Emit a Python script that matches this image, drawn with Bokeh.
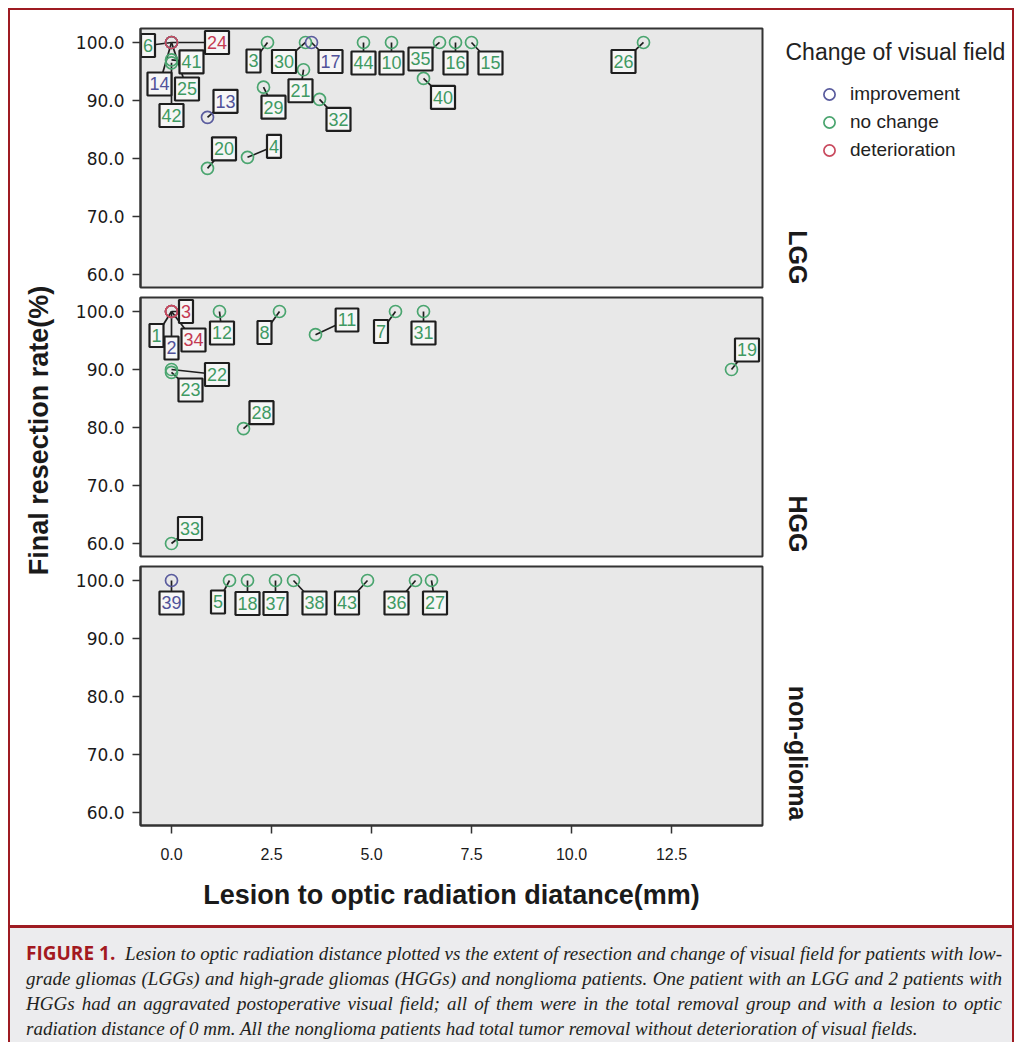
import math
from bokeh.plotting import figure
from bokeh.layouts import column, row
from bokeh.models import (Range1d, FixedTicker, NumeralTickFormatter, Label,
                          Legend, LegendItem, Div, Spacer)
from bokeh.core.properties import value
from bokeh.embed import file_html
from bokeh.resources import INLINE

# ---------------- data ----------------
x_ticks = [0.0, 2.5, 5.0, 7.5, 10.0, 12.5]
y_ticks = [60.0, 70.0, 80.0, 90.0, 100.0]
groups = ["LGG", "HGG", "non-glioma"]
change_levels = ["improvement", "no change", "deterioration"]

lgg_id = ["6", "24", "14", "25", "41", "42", "13", "20", "4", "29", "3",
          "30", "17", "21", "32", "44", "10", "35", "16", "15", "40", "26"]
lgg_dist = [0.0, 0.0, 0.0, 0.0, 0.0, 0.0, 0.9, 0.9, 1.9, 2.3, 2.4,
            3.35, 3.5, 3.3, 3.7, 4.8, 5.5, 6.7, 7.1, 7.5, 6.3, 11.8]
lgg_rate = [100, 100, 100, 100, 97.0, 96.5, 87.1, 78.3, 80.2, 92.3, 100,
            100, 100, 95.3, 90.2, 100, 100, 100, 100, 100, 93.8, 100]
lgg_change = ["no change", "deterioration", "improvement", "no change", "no change",
              "no change", "improvement", "no change", "no change", "no change",
              "no change", "no change", "improvement", "no change", "no change",
              "no change", "no change", "no change", "no change", "no change",
              "no change", "no change"]

hgg_id = ["3", "34", "1", "2", "12", "8", "11", "7", "31", "22", "23", "28", "33", "19"]
hgg_dist = [0.0, 0.0, 0.0, 0.0, 1.2, 2.7, 3.6, 5.6, 6.3, 0.0, 0.0, 1.8, 0.0, 14.0]
hgg_rate = [100, 100, 100, 100, 100, 100, 96.0, 100, 100, 90.0, 89.5, 79.8, 60.0, 90.0]
hgg_change = ["deterioration", "deterioration", "no change", "improvement", "no change",
              "no change", "no change", "no change", "no change", "no change",
              "no change", "no change", "no change", "no change"]

ng_id = ["39", "5", "18", "37", "38", "43", "36", "27"]
ng_dist = [0.0, 1.45, 1.9, 2.6, 3.05, 4.9, 6.1, 6.5]
ng_rate = [100, 100, 100, 100, 100, 100, 100, 100]
ng_change = ["improvement", "no change", "no change", "no change", "no change",
             "no change", "no change", "no change"]

# ---------------- label placement (screen px offsets of the boxed ids) ----------------
lgg_lab_dx = [-23.5, 45.5, -12, 15.5, 20, 0, 18, 16.5, 26.5, 10, -14,
              -21.5, 19, -3, 19, 0, 0, -19, 0, 19, 19.5, -20]
lgg_lab_dy = [3, 0, 41.5, 46.5, 2, 52.7, -16, -19.5, -11, 20, 18.5,
              19, 19, 21, 20, 20.5, 20.5, 16.5, 20.5, 20.5, 19, 19]
hgg_lab_dx = [14.5, 22, -15, 0, 2.5, -15, 31.5, -14.5, 0, 45.5, 19, 18, 18.5, 15.5]
hgg_lab_dy = [0, 28.5, 24, 36.5, 21.5, 21, -14.7, 20, 21.5, 5, 17.6, -16, -15, -19.5]
ng_lab_dx = [0, -11.5, 0, 0, 21, -20.5, -19, 3.5]
ng_lab_dy = [22.5, 21.5, 23, 23, 22.5, 22.5, 22.5, 22.5]

# ---------------- styling ----------------
COL = {"improvement": "#5a5c9e", "no change": "#4aa56f", "deterioration": "#c94a5e"}
TXT = {"improvement": "#50529a", "no change": "#3f9a63", "deterioration": "#c43a52"}
RED = "#9e1b22"
X_START, X_END = -0.775, 14.775
Y_START, Y_END = 57.76, 102.41
FRAME_W, FRAME_H = 622, 259
PX_X = FRAME_W / (X_END - X_START)
PX_Y = FRAME_H / (Y_END - Y_START)
PANELS_H = 282 + 269 + 364


def make_panel(ids, dist, rate, change, dxs, dys, first=False, last=False):
    p = figure(frame_width=FRAME_W, frame_height=FRAME_H,
               x_range=Range1d(X_START, X_END), y_range=Range1d(Y_START, Y_END),
               output_backend="svg", toolbar_location=None, title=None,
               x_axis_location="below" if last else None,
               min_border_left=70, min_border_right=2,
               min_border_top=18 if first else 5,
               min_border_bottom=100 if last else 5,
               background_fill_color="#e8e8e8", border_fill_color="white",
               outline_line_color="#333333", outline_line_width=2)
    p.grid.visible = False

    ya = p.yaxis[0]
    ya.ticker = FixedTicker(ticks=y_ticks)
    ya.formatter = NumeralTickFormatter(format="0.0")
    ya.major_tick_out = 8
    ya.major_tick_in = 0
    ya.minor_tick_out = 0
    ya.minor_tick_in = 0
    ya.major_tick_line_color = "#333333"
    ya.major_tick_line_width = 1.5
    ya.axis_line_color = "#333333"
    ya.axis_line_width = 2
    ya.major_label_text_font = "DejaVu Sans"
    ya.major_label_text_font_size = "17px"
    ya.major_label_text_color = "#1a1a1a"
    ya.major_label_standoff = 8

    if last:
        xa = p.xaxis[0]
        xa.ticker = FixedTicker(ticks=x_ticks)
        xa.formatter = NumeralTickFormatter(format="0.0")
        xa.major_tick_out = 8
        xa.major_tick_in = 0
        xa.minor_tick_out = 0
        xa.minor_tick_in = 0
        xa.major_tick_line_color = "#333333"
        xa.major_tick_line_width = 1.5
        xa.axis_line_color = "#333333"
        xa.axis_line_width = 2
        xa.major_label_text_font = "Liberation Sans"
        xa.major_label_text_font_size = "16px"
        xa.major_label_text_color = "#1a1a1a"
        xa.major_label_standoff = 14
        xa.axis_label = "Lesion to optic radiation diatance(mm)"
        xa.axis_label_text_font = "Liberation Sans"
        xa.axis_label_text_font_style = "bold"
        xa.axis_label_text_font_size = "27px"
        xa.axis_label_text_color = "#1a1a1a"
        xa.axis_label_standoff = 17

    lx = [x + d / PX_X for x, d in zip(dist, dxs)]
    ly = [y - d / PX_Y for y, d in zip(rate, dys)]

    p.segment(x0=dist, y0=rate, x1=lx, y1=ly, line_color="#1e1e1e", line_width=1.7)

    for cat in ["no change", "improvement", "deterioration"]:
        idx = [i for i, c in enumerate(change) if c == cat]
        if not idx:
            continue
        p.scatter([dist[i] for i in idx], [rate[i] for i in idx],
                  marker="circle", size=12, fill_color=None,
                  line_color=COL[cat], line_width=1.7)

    p.text(x=lx, y=ly, text=ids, text_color=[TXT[c] for c in change],
           text_align="center", text_baseline="middle",
           text_font=value("Liberation Sans"), text_font_size="18px",
           background_fill_color="#f6f6f6", border_line_color="#1e1e1e",
           border_line_width=2.2, padding=(2, 5))
    return p


p1 = make_panel(lgg_id, lgg_dist, lgg_rate, lgg_change, lgg_lab_dx, lgg_lab_dy, first=True)
p2 = make_panel(hgg_id, hgg_dist, hgg_rate, hgg_change, hgg_lab_dx, hgg_lab_dy)
p3 = make_panel(ng_id, ng_dist, ng_rate, ng_change, ng_lab_dx, ng_lab_dy, last=True)


def blank_fig(w, h):
    f = figure(width=w, height=h, x_range=Range1d(0, w), y_range=Range1d(h, 0),
               output_backend="svg", toolbar_location=None, title=None,
               x_axis_location=None, y_axis_location=None,
               min_border_left=0, min_border_right=0, min_border_top=0, min_border_bottom=0,
               outline_line_color=None, background_fill_color="white",
               border_fill_color="white")
    f.grid.visible = False
    return f


# y axis title, shared by the three panels
ylab = blank_fig(60, PANELS_H)
ylab.add_layout(Label(x=28, y=420, text="Final resection rate(%)", angle=math.pi / 2,
                      text_align="center", text_baseline="middle",
                      text_font="Liberation Sans", text_font_style="bold",
                      text_font_size="27px", text_color="#1a1a1a"))

# right column: legend and panel strip labels
side = blank_fig(248, PANELS_H)
strip_bottom = [274, 542, 810]
for g, yb in zip(groups, strip_bottom):
    side.add_layout(Label(x=33, y=yb, text=g, angle=-math.pi / 2,
                          text_align="right", text_baseline="middle",
                          text_font="Liberation Sans", text_font_style="bold",
                          text_font_size="25px", text_color="#1a1a1a"))
side.add_layout(Label(x=21, y=41, text="Change of visual field",
                      text_align="left", text_baseline="middle",
                      text_font="Liberation Sans", text_font_size="23px",
                      text_color="#222222"))
# legend proxies: one point each, kept outside the visible area of this side column
leg_r = {c: side.scatter(x=[-500], y=[-500], marker="circle", size=12, fill_color=None,
                         line_color=COL[c], line_width=1.7) for c in change_levels}
legend = Legend(items=[LegendItem(label=c, renderers=[leg_r[c]]) for c in change_levels],
                location=(49, PANELS_H - 154), orientation="vertical",
                glyph_width=32, glyph_height=28, label_height=20, label_standoff=5,
                spacing=0, padding=0, margin=0,
                border_line_color=None, background_fill_color=None,
                label_text_font="Liberation Sans", label_text_font_size="19px",
                label_text_color="#222222")
side.add_layout(legend)

line_style = "text-align:justify;text-align-last:justify;"
caption_html = (
    '<div style="width:1002px;height:117px;box-sizing:border-box;background:#ececee;'
    'border-top:3px solid ' + RED + ';padding:13px 10px 0 16px;'
    "font-family:'Liberation Serif',serif;font-style:italic;font-size:19px;"
    'line-height:25px;color:#231f20;">'
    '<div style="' + line_style + '"><span style="font-family:\'Open Sans\',sans-serif;'
    'font-style:normal;font-weight:bold;color:#a3191f;">FIGURE 1.</span>&nbsp; '
    'Lesion to optic radiation distance plotted vs the extent of resection and change of '
    'visual field for patients with low-</div>'
    '<div style="' + line_style + '">grade gliomas (LGGs) and high-grade gliomas (HGGs) and '
    'nonglioma patients. One patient with an LGG and 2 patients with</div>'
    '<div style="' + line_style + '">HGGs had an aggravated postoperative visual field; all of '
    'them were in the total removal group and with a lesion to optic</div>'
    '<div>radiation distance of 0 mm. All the nonglioma patients had total tumor removal '
    'without deterioration of visual fields.</div>'
    '</div>'
)
caption = Div(text=caption_html, width=1002, height=117, margin=0)

inner = column(row(ylab, column(p1, p2, p3, spacing=0), side, spacing=0), caption, spacing=0)
H = PANELS_H + 117
left_line = Spacer(width=2, height=H, background=RED, margin=0)
right_line = Spacer(width=2, height=H, background=RED, margin=0)
top_line = Spacer(width=1006, height=2, background=RED, margin=0)

layout = column(top_line, row(left_line, inner, right_line, spacing=0), spacing=0,
                margin=(8, 0, 0, 8))

open("out.html", "w").write(file_html(layout, INLINE))
